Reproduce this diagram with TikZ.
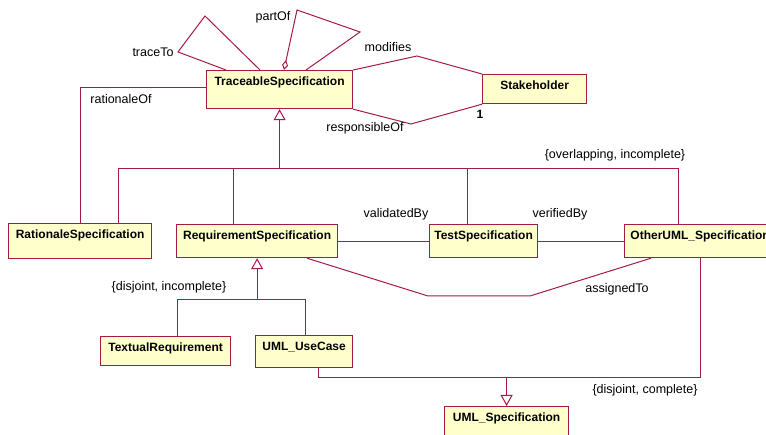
\documentclass[tikz,border=0pt]{standalone}
\usepackage{fontspec}
\setmainfont{Liberation Sans}
\usetikzlibrary{arrows.meta}
\definecolor{umlred}{RGB}{165,25,75}
\definecolor{umlyellow}{RGB}{255,255,204}
\tikzstyle{assoc} = [draw=umlred, line width=1pt]
\tikzstyle{gen} = [draw=umlred, line width=1pt, -{Triangle[open,length=11pt,width=12pt]}]
\tikzstyle{aggr} = [draw=umlred, line width=1pt, {Diamond[open,length=10pt,width=6pt]}-]
\tikzset{
  classbox/.style = {draw=umlred, fill=umlyellow, line width=1.2pt, anchor=north west,
    inner sep=0pt, text height=15pt, font=\fontsize{12}{14}\selectfont\bfseries},
  rolelabel/.style = {inner sep=0pt, font=\fontsize{12.5}{14}\selectfont},
}
\begin{document}
\begin{tikzpicture}[x=1pt,y=-1pt]
\useasboundingbox (0,0) rectangle (766,435);

% classes
\node[classbox, minimum width=146, text depth=23] (ts) at (206,70) {TraceableSpecification};
\node[classbox, minimum width=104, text depth=14] (sh) at (482,74) {Stakeholder};
\node[classbox, minimum width=143, text depth=20] (rat) at (8,223) {RationaleSpecification};
\node[classbox, minimum width=161, text depth=18] (rq) at (176,224) {RequirementSpecification};
\node[classbox, minimum width=108, text depth=18] (tst) at (429,224) {TestSpecification};
\node[classbox, minimum width=151, text depth=18] (ou) at (624,224) {OtherUML\_Specification};
\node[classbox, minimum width=130, text depth=14] (tr) at (100,336) {TextualRequirement};
\node[classbox, minimum width=97, text depth=17] (uc) at (255,335) {UML\_UseCase};
\node[classbox, minimum width=124, text depth=15] (us) at (444,406) {UML\_Specification};

% self associations
\path[assoc] ([xshift=20]ts.north west) -- (178,52) -- (205,16) -- ([xshift=54]ts.north west);
\path[aggr] ([xshift=78]ts.north west) -- (297,10) -- (360,32) -- ([xshift=100]ts.north west);
\node[rolelabel] (traceto) at (153,52) {traceTo};
\node[rolelabel] (partof) at (273,17) {partOf};

% stakeholder
\path[assoc] (ts.north east) -- (417,56) -- (sh.north west);
\path[assoc] (ts.south east) -- (411,124) -- (sh.south west);
\node[rolelabel] (modifies) at (388,47) {modifies};
\node[rolelabel] (responsible) at (365,128) {responsibleOf};
\node[rolelabel, font=\fontsize{12}{14}\selectfont\bfseries] (mult) at (480,114) {1};

% rationale
\path[assoc] ([yshift=-18]ts.north west) -| ([xshift=72]rat.north west);
\node[rolelabel] (rationale) at (121,99) {rationaleOf};

% generalization of TraceableSpecification
\coordinate (g1) at (ts.south |- 0,169);
\path[gen] (g1) -- (ts.south);
\path[assoc] (g1) -| ([xshift=110]rat.north west);
\path[assoc] (g1) -| ([xshift=57]rq.north west);
\path[assoc] (g1) -| ([xshift=38]tst.north west);
\path[assoc] (g1) -| ([xshift=54]ou.north west);
\node[rolelabel] (overlap) at (615,155) {\{overlapping, incomplete\}};

% associations between specifications
\path[assoc] (rq.east) -- (tst.west);
\path[assoc] (tst.east) -- (tst.east -| ou.west);
\path[assoc] ([xshift=131]rq.south west) -- (428,296) -- (530,296) -- ([xshift=27]ou.south west);
\node[rolelabel] (validated) at (396,214) {validatedBy};
\node[rolelabel] (verified) at (560,214) {verifiedBy};
\node[rolelabel] (assigned) at (617,289) {assignedTo};

% generalization of RequirementSpecification
\coordinate (g2) at (rq.south |- 0,300);
\path[gen] (g2) -- (rq.south);
\path[assoc] (g2) -| ([xshift=77]tr.north west);
\path[assoc] (g2) -| ([xshift=50]uc.north west);
\node[rolelabel] (disjinc) at (169,287) {\{disjoint, incomplete\}};

% generalization of UML_Specification
\coordinate (g3) at (us.north |- 0,378);
\path[gen] (g3) -- (us.north);
\path[assoc] (g3) -| ([xshift=63]uc.south west);
\path[assoc] (g3) -| ([xshift=76]ou.south west);
\node[rolelabel] (disjcomp) at (645,390) {\{disjoint, complete\}};
\end{tikzpicture}
\end{document}
